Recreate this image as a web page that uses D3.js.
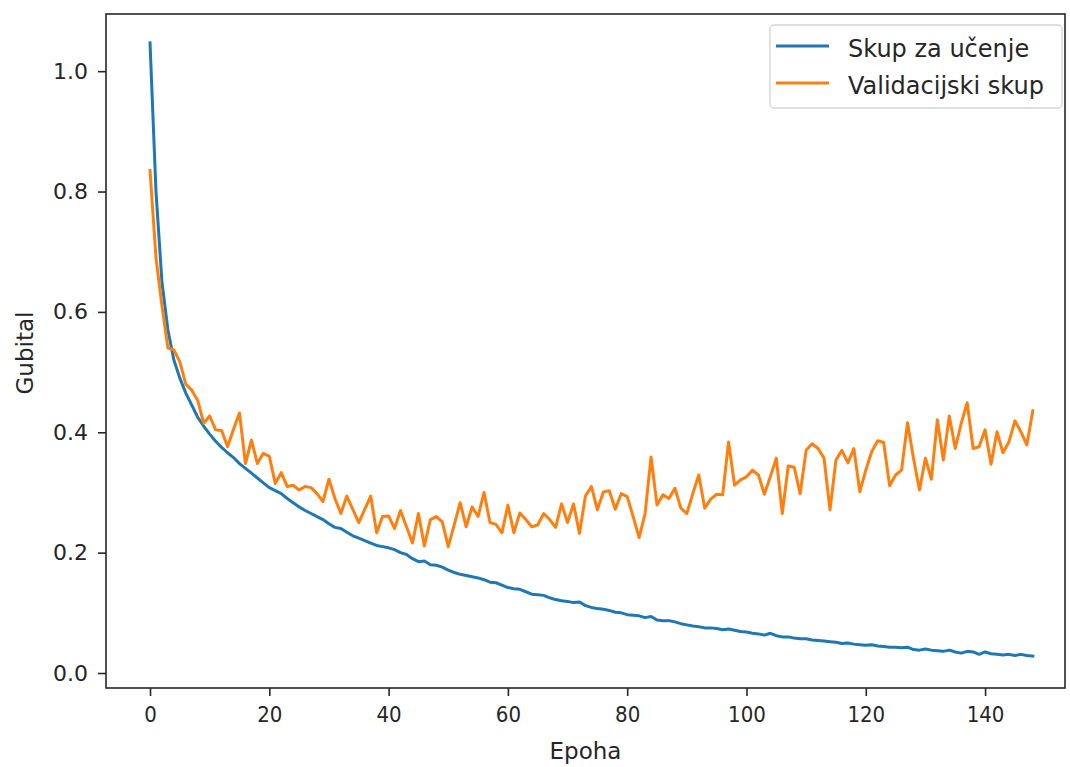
<!DOCTYPE html>
<html>
<head>
<meta charset="utf-8">
<script src="https://cdn.jsdelivr.net/npm/d3@7"></script>
<style>
body{margin:0;background:#fff}
text{font-family:"DejaVu Sans",sans-serif;fill:#262626}
</style>
</head>
<body>
<div id="Canvas"></div>
<script>
//podaci - gubitak po epohi
let train_loss = [1.047,0.80,0.65,0.57,0.52,0.49,0.465,0.445,0.425,0.41,
    0.397,0.385,0.375,0.366,0.358,0.348,0.34,0.332,0.324,0.316,
    0.308,0.303,0.298,0.29,0.283,0.276,0.27,0.265,0.26,0.255,
    0.248,0.242,0.24,0.234,0.228,0.224,0.22,0.216,0.212,0.21,
    0.208,0.205,0.2,0.197,0.19,0.185,0.186,0.18,0.179,0.176,
    0.171,0.167,0.164,0.162,0.16,0.158,0.155,0.151,0.15,0.146,
    0.142,0.14,0.139,0.135,0.131,0.13,0.129,0.125,0.122,0.12,
    0.119,0.117,0.118,0.112,0.109,0.107,0.106,0.104,0.101,0.1,
    0.097,0.096,0.095,0.092,0.094,0.088,0.087,0.087,0.085,0.082,
    0.08,0.078,0.077,0.075,0.075,0.074,0.072,0.073,0.071,0.069,
    0.068,0.066,0.065,0.063,0.066,0.062,0.06,0.06,0.058,0.057,
    0.057,0.055,0.054,0.053,0.052,0.051,0.049,0.05,0.048,0.047,
    0.046,0.047,0.045,0.044,0.043,0.043,0.042,0.043,0.039,0.038,
    0.04,0.038,0.037,0.036,0.038,0.035,0.033,0.036,0.035,0.031,
    0.035,0.032,0.031,0.03,0.031,0.029,0.031,0.029,0.028]
let val_loss = [0.835,0.69,0.61,0.54,0.537,0.517,0.48,0.47,0.453,0.415,
    0.427,0.404,0.403,0.376,0.405,0.432,0.348,0.387,0.348,0.365,
    0.36,0.315,0.333,0.31,0.312,0.304,0.31,0.308,0.298,0.285,
    0.322,0.29,0.265,0.294,0.272,0.25,0.272,0.294,0.233,0.26,
    0.261,0.24,0.27,0.243,0.216,0.265,0.211,0.255,0.26,0.251,
    0.21,0.246,0.283,0.243,0.276,0.26,0.3,0.25,0.247,0.233,
    0.279,0.233,0.266,0.255,0.243,0.246,0.265,0.255,0.242,0.281,
    0.25,0.281,0.232,0.294,0.31,0.271,0.301,0.303,0.272,0.298,
    0.293,0.26,0.225,0.265,0.359,0.279,0.296,0.29,0.307,0.274,
    0.265,0.298,0.329,0.274,0.289,0.297,0.296,0.384,0.312,0.321,
    0.326,0.337,0.329,0.297,0.326,0.357,0.265,0.344,0.342,0.298,
    0.37,0.381,0.373,0.357,0.271,0.354,0.37,0.349,0.373,0.301,
    0.337,0.368,0.386,0.383,0.311,0.329,0.337,0.416,0.357,0.304,
    0.357,0.322,0.421,0.354,0.427,0.373,0.415,0.449,0.373,0.376,
    0.404,0.347,0.401,0.366,0.384,0.419,0.401,0.379,0.436]
let series_names = ["Skup za učenje","Validacijski skup"]
let series_colors = ["#1f77b4","#ff7f0e"]
let x_ticks = [0,20,40,60,80,100,120,140]
let y_ticks = [0.0,0.2,0.4,0.6,0.8,1.0]

//svg
let svg = d3.select("#Canvas")
    .append("svg")
    .attr('width' , 1070)
    .attr('height' ,767)

//okvir osi (pikseli)
let L = 106 , R = 1065 , T = 14 , B = 688

let xScale = d3.scaleLinear()
    .domain([-7.38,153.4])
    .range([L,R])
let yScale = d3.scaleLinear()
    .domain([-0.0249,1.095])
    .range([B,T])

//x os
let xAxis = svg.append("g")
    .attr("transform","translate(0,"+B+")")
    .call(d3.axisBottom(xScale).tickValues(x_ticks).tickFormat(d3.format("d")).tickSizeOuter(0).tickSize(8).tickPadding(10))
xAxis.select(".domain").remove()
xAxis.selectAll("line").attr("stroke","#262626").attr("stroke-width",1.6)
xAxis.selectAll("text").style("font-family","'DejaVu Sans Condensed','DejaVu Sans',sans-serif").style("font-size","22px").attr("fill","#262626")

//y os
let yAxis = svg.append("g")
    .attr("transform","translate("+L+",0)")
    .call(d3.axisLeft(yScale).tickValues(y_ticks).tickFormat(d3.format(".1f")).tickSizeOuter(0).tickSize(8).tickPadding(10))
yAxis.select(".domain").remove()
yAxis.selectAll("line").attr("stroke","#262626").attr("stroke-width",1.6)
yAxis.selectAll("text").style("font-size","22px").attr("fill","#262626")

//linije
let line = d3.line()
    .x((d,i)=>xScale(i))
    .y((d)=>yScale(d))
let all_series = [train_loss , val_loss]
svg.append("g")
    .selectAll("path")
    .data(all_series)
    .enter()
    .append("path")
    .attr("d",(d)=>line(d))
    .attr("fill","none")
    .attr("stroke",(d,i)=>series_colors[i])
    .attr("stroke-width",3)
    .attr("stroke-linejoin","round")
    .attr("stroke-linecap","square")

//okvir
svg.append("rect")
    .attr("x",L).attr("y",T)
    .attr("width",R-L).attr("height",B-T)
    .attr("fill","none")
    .attr("stroke","#262626")
    .attr("stroke-width",1.6)

//nazivi osi
svg.append("text")
    .attr("x",(L+R)/2).attr("y",759)
    .attr("text-anchor","middle")
    .style("font-size","23px")
    .text("Epoha")
svg.append("text")
    .attr("transform","translate(33,353) rotate(-90)")
    .attr("text-anchor","middle")
    .style("font-size","23px")
    .text("Gubital")

//legenda
svg.append("rect")
    .attr("x",770).attr("y",25)
    .attr("width",292).attr("height",83)
    .attr("rx",4)
    .attr("fill","#fff").attr("fill-opacity",0.8)
    .attr("stroke","#d6d6d6")
    .attr("stroke-width",1.4)
series_names.forEach((name,i)=>{
    let yy = 46 + i*37
    svg.append("line")
        .attr("x1",776).attr("x2",829)
        .attr("y1",yy).attr("y2",yy)
        .attr("stroke",series_colors[i])
        .attr("stroke-width",3)
    svg.append("text")
        .attr("x",848).attr("y",yy+11)
        .style("font-size","24px")
        .text(name)
})
</script>
</body>
</html>
